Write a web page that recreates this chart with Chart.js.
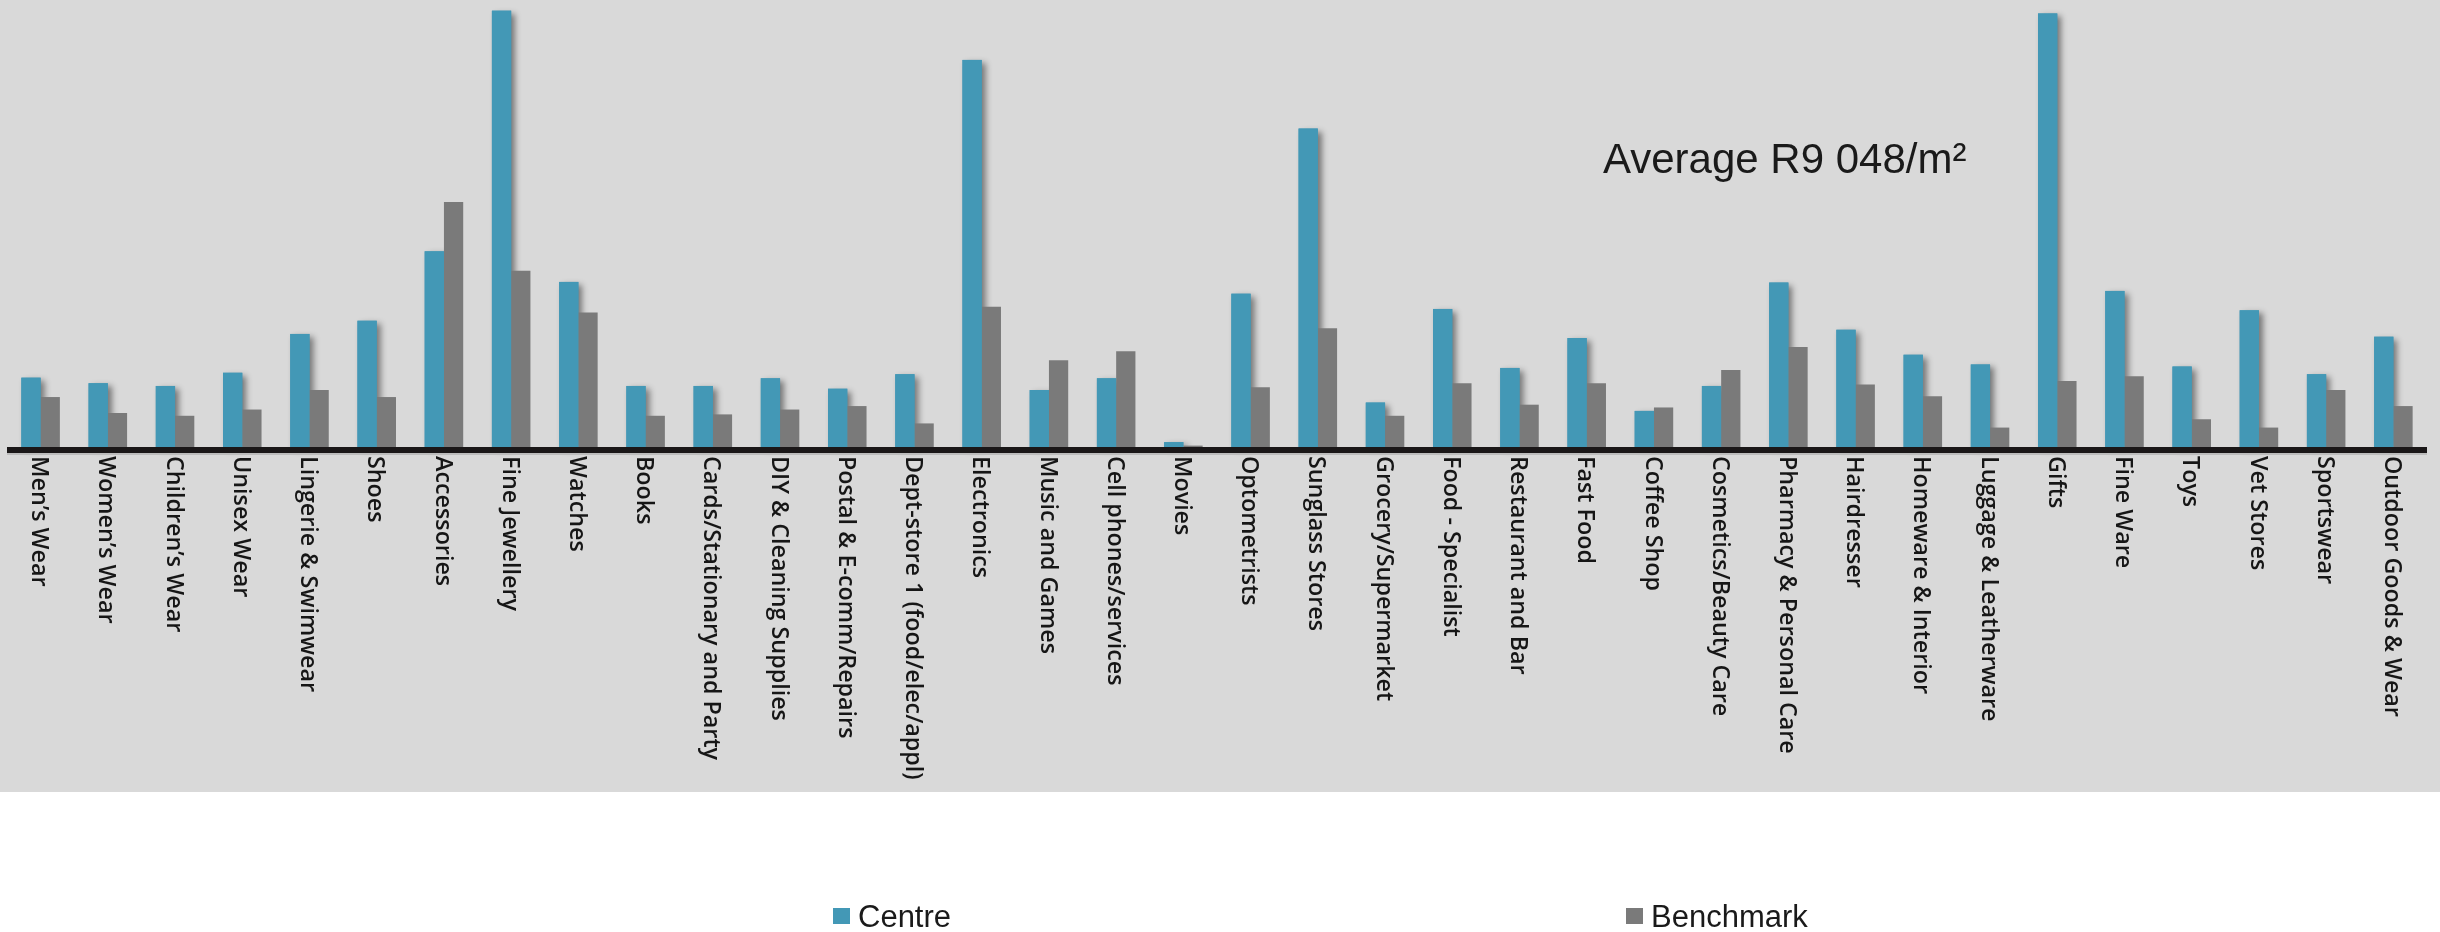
<!DOCTYPE html>
<html>
<head>
<meta charset="utf-8">
<title>Centre vs Benchmark</title>
<script src="https://cdn.jsdelivr.net/npm/chart.js@4.4.1/dist/chart.umd.min.js"></script>
<style>
  html, body { margin: 0; padding: 0; background: #ffffff; }
  #g_loyer { display: block; }
</style>
</head>
<body>
<canvas id="g_loyer" width="2440" height="932"></canvas>
<script>
// les categories (axe x)
const categories = [
    "Men’s Wear", "Women’s Wear", "Children’s Wear", "Unisex Wear", "Lingerie & Swimwear",
    "Shoes", "Accessories", "Fine Jewellery", "Watches", "Books",
    "Cards/Stationary and Party", "DIY & Cleaning Supplies", "Postal & E-comm/Repairs",
    "Dept-store 1 (food/elec/appl)", "Electronics", "Music and Games", "Cell phones/services",
    "Movies", "Optometrists", "Sunglass Stores", "Grocery/Supermarket", "Food - Specialist",
    "Restaurant and Bar", "Fast Food", "Coffee Shop", "Cosmetics/Beauty Care",
    "Pharmacy & Personal Care", "Hairdresser", "Homeware & Interior", "Luggage & Leatherware",
    "Gifts", "Fine Ware", "Toys", "Vet Stores", "Sportswear", "Outdoor Goods & Wear"
];

// valeurs (R/m²)
const centre = [
    5000, 4600, 4400, 5350, 8150,
    9100, 14100, 31450, 11900, 4400,
    4400, 4950, 4200,
    5250, 27900, 4100, 4950,
    350, 11050, 22950, 3200, 9950,
    5700, 7850, 2600, 4400,
    11850, 8450, 6650, 5950,
    31250, 11250, 5800, 9850, 5250, 7950
];
const benchmark = [
    3600, 2450, 2250, 2700, 4100,
    3600, 17650, 12700, 9700, 2250,
    2350, 2700, 2950,
    1700, 10100, 6250, 6900,
    100, 4300, 8550, 2250, 4600,
    3050, 4600, 2850, 5550,
    7200, 4500, 3650, 1400,
    4750, 5100, 2000, 1400, 4100, 2950
];

const seriesNames = ['Centre', 'Benchmark'];
const seriesColors = ['#4398b6', '#7a7a7a'];
const averageText = 'Average R9 048/m²';
const yMax = 32000;

// fond gris derriere le graphique et les etiquettes
const fondGris = {
    id: 'fondGris',
    beforeDraw(chart) {
        const ctx = chart.ctx;
        ctx.save();
        ctx.fillStyle = '#d9d9d9';
        ctx.fillRect(0, 0, chart.width, 792);
        ctx.restore();
    }
};

// ombre a droite des barres bleues (dessinee avant, les barres grises passent dessus)
const ombre = {
    id: 'ombre',
    beforeDatasetsDraw(chart) {
        const ctx = chart.ctx;
        const meta = chart.getDatasetMeta(0);
        ctx.save();
        ctx.shadowColor = 'rgba(0,0,0,0.45)';
        ctx.shadowBlur = 6;
        ctx.shadowOffsetX = 4;
        ctx.shadowOffsetY = 3;
        ctx.fillStyle = seriesColors[0];
        meta.data.forEach(function(bar) {
            const p = bar.getProps(['x', 'y', 'width', 'base'], true);
            ctx.fillRect(p.x - p.width / 2, p.y, p.width, p.base - p.y);
        });
        ctx.restore();
    }
};

// ligne d'axe noire + etiquettes tournees de 90 degres
const axeX = {
    id: 'axeX',
    afterDatasetsDraw(chart) {
        const ctx = chart.ctx;
        const area = chart.chartArea;
        const xScale = chart.scales.x;
        ctx.save();
        ctx.fillStyle = '#1a1718';
        ctx.fillRect(area.left, area.bottom, area.right - area.left, 6);
        ctx.fillStyle = '#bcbcbc';
        ctx.fillRect(area.left, area.bottom + 6, area.right - area.left, 2);

        ctx.fillStyle = '#161616';
        ctx.font = '600 23.3px "Open Sans"';
        ctx.textAlign = 'left';
        ctx.textBaseline = 'alphabetic';
        for (let i = 0; i < chart.data.labels.length; i++) {
            const x = xScale.getPixelForValue(i);
            ctx.save();
            ctx.translate(x, area.bottom + 9);
            ctx.rotate(Math.PI / 2);
            ctx.fillText(chart.data.labels[i], 0, 8.4);
            ctx.restore();
        }
        ctx.restore();
    }
};

// texte de la moyenne + legende
const textes = {
    id: 'textes',
    afterDraw(chart) {
        const ctx = chart.ctx;
        ctx.save();
        ctx.fillStyle = '#1a1a1a';
        ctx.font = '42px "Liberation Sans"';
        ctx.textAlign = 'left';
        ctx.textBaseline = 'alphabetic';
        ctx.fillText(averageText, 1603, 173);

        const legendX = [833, 1626];
        ctx.font = '31px "Liberation Sans"';
        chart.data.datasets.forEach(function(ds, i) {
            ctx.fillStyle = ds.backgroundColor;
            ctx.fillRect(legendX[i], 908, 17, 16);
            ctx.fillStyle = '#1a1a1a';
            ctx.fillText(ds.label, legendX[i] + 25, 927);
        });
        ctx.restore();
    }
};

function dessine() {
    const context = document.getElementById('g_loyer').getContext('2d');
    let conData = {
        labels: categories,
        datasets: [{
            label: seriesNames[0],
            data: centre,
            backgroundColor: seriesColors[0],
            borderWidth: 0
        }, {
            label: seriesNames[1],
            data: benchmark,
            backgroundColor: seriesColors[1],
            borderWidth: 0
        }]
    };
    let options = {
        responsive: false,
        animation: false,
        devicePixelRatio: 1,
        layout: {
            padding: { left: 7, right: 13, top: 3, bottom: 485 }
        },
        datasets: {
            bar: {
                categoryPercentage: 0.573,
                barPercentage: 1.0
            }
        },
        scales: {
            x: {
                display: false
            },
            y: {
                display: false,
                min: 0,
                max: yMax
            }
        },
        plugins: {
            legend: { display: false },
            title: { display: false },
            tooltip: { enabled: false }
        }
    };
    let config = {
        type: 'bar',
        data: conData,
        options: options,
        plugins: [fondGris, ombre, axeX, textes]
    };
    let gLoyer = new Chart(context, config);
}

window.addEventListener('load', () => {
    dessine();
});
</script>
</body>
</html>
